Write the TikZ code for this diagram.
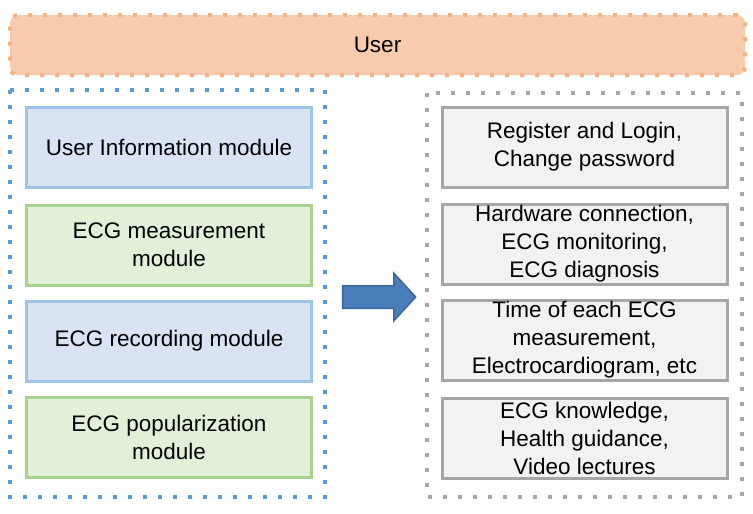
\documentclass[tikz,border=0pt]{standalone}
\usepackage{fontspec}
\setmainfont{Liberation Sans}
\usepackage{xcolor}
\usetikzlibrary{shapes.arrows}
\definecolor{userfill}{HTML}{F8CBAD}
\definecolor{userline}{HTML}{F4B183}
\definecolor{bluefill}{HTML}{DAE3F3}
\definecolor{blueline}{HTML}{9DC3E6}
\definecolor{greenfill}{HTML}{E2F0D9}
\definecolor{greenline}{HTML}{A9D18E}
\definecolor{grayfill}{HTML}{F2F2F2}
\definecolor{grayline}{HTML}{A6A6A6}
\definecolor{groupblue}{HTML}{5B9BD5}
\definecolor{arrowfill}{HTML}{4A7EBB}
\definecolor{arrowline}{HTML}{3A679B}
\tikzset{
  dotline/.style={line width=4pt, dash pattern=on 4pt off 11pt},
  modbox/.style={line width=3pt, minimum width=285pt, minimum height=80pt, align=center, inner sep=0pt},
  infobox/.style={modbox, fill=bluefill, draw=blueline},
  funcbox/.style={modbox, fill=greenfill, draw=greenline},
  detailbox/.style={modbox, fill=grayfill, draw=grayline}
}

\begin{document}
\begin{tikzpicture}[x=1pt, y=-1pt, font=\fontsize{22.5}{28}\selectfont]
      \useasboundingbox (0,0) rectangle (753,514);
      \node [fill=userfill, draw=userline, dotline, rounded corners=8pt, minimum width=735pt, minimum height=60pt] (user) at (377.5,45) {User};
      \draw [groupblue, dotline] (10,90) rectangle (325,497);
      \draw [grayline, dotline] (427,93) rectangle (742,497);
      \node [infobox] (info) at (169,147) {User Information module};
      \node [funcbox] (measure) at (169,245) {ECG measurement\\module};
      \node [infobox] (record) at (169,341) {ECG recording module};
      \node [funcbox] (popular) at (169,437) {ECG popularization\\module};
      \node [detailbox] (reg) at (584.5,147) {Register and Login,\\Change password};
      \node [detailbox] (hw) at (584.5,244) {Hardware connection,\\ECG monitoring,\\ECG diagnosis};
      \node [detailbox] (time) at (584.5,340) {Time of each ECG\\measurement,\\Electrocardiogram, etc};
      \node [detailbox] (know) at (584.5,438) {ECG knowledge,\\Health guidance,\\Video lectures};
      \node [single arrow, fill=arrowfill, draw=arrowline, line width=1.5pt, inner xsep=0pt, inner ysep=10.5pt, minimum width=0pt, minimum height=73pt, single arrow head extend=12.5pt, single arrow tip angle=95] (arrow) at (374,297) {};
    \end{tikzpicture}
\end{document}
